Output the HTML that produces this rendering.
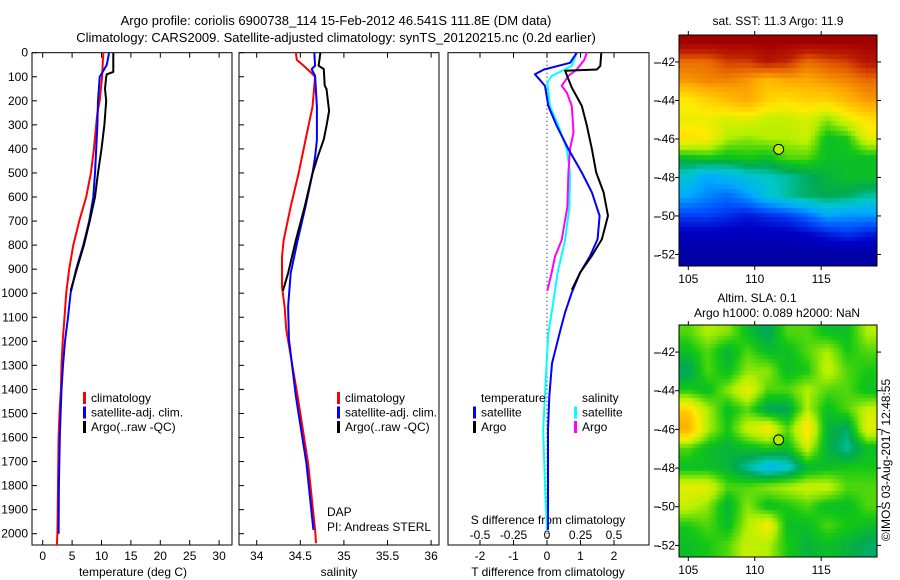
<!DOCTYPE html>
<html><head><meta charset="utf-8">
<style>
html,body{margin:0;padding:0;background:#fff;}
#wrap{position:relative;width:900px;height:580px;overflow:hidden;font-family:"Liberation Sans",sans-serif;}
svg text{font-family:"Liberation Sans",sans-serif;font-size:12px;fill:#000;}
canvas{position:absolute;}
</style></head>
<body>
<div id="wrap">
<canvas id="sstMap" width="198" height="231" style="left:679px;top:35px"></canvas>
<canvas id="slaMap" width="198" height="232" style="left:679px;top:325px"></canvas>
<svg id="fig" width="900" height="580" style="position:absolute;left:0;top:0" xmlns="http://www.w3.org/2000/svg">
<text x="336" y="25" text-anchor="middle" style="font-size:13px">Argo profile: coriolis 6900738_114 15-Feb-2012 46.541S 111.8E (DM data)</text>
<text x="336" y="42" text-anchor="middle" style="font-size:13px">Climatology: CARS2009. Satellite-adjusted climatology: synTS_20120215.nc (0.2d earlier)</text>
<g id="g"></g>
</svg>
</div>
<script>
// ---------- data ----------
const depthTicks=[0,100,200,300,400,500,600,700,800,900,1000,1100,1200,1300,1400,1500,1600,1700,1800,1900,2000];
const tempTicks=[0,5,10,15,20,25,30];
const salTicks=[34,34.5,35,35.5,36];
const salTickLabels=["34","34.5","35","35.5","36"];
const tdiffTicks=[-2,-1,0,1,2];
const sdiffTicks=[-0.5,-0.25,0,0.25,0.5];
const sdiffTickLabels=["-0.5","-0.25","0","0.25","0.5"];

const tClimDepth=[0,100,200,250,300,400,500,600,700,800,900,1000,1100,1200,1300,1400,1500,1600,1800,2000,2050];
const tClimVal=[10.3,10.1,9.7,9.3,9.1,8.7,8.2,7.4,6.2,5.2,4.5,4.0,3.7,3.4,3.2,3.1,2.85,2.7,2.6,2.5,2.4];
const tSatDepth=[0,50,80,100,200,300,400,500,600,700,800,900,1000,1100,1200,1300,1400,1500,1600,1800,2000];
const tSatVal=[11.3,10.9,10.2,9.7,9.4,9.3,9.1,8.9,8.6,7.9,6.9,5.7,4.75,4.3,3.8,3.45,3.2,3.05,2.9,2.75,2.7];
const tArgoDepth=[0,80,90,100,150,200,300,400,500,600,700,800,900,990];
const tArgoVal=[12.0,12.0,10.9,10.8,10.6,10.8,10.5,10.0,9.4,8.9,8.0,7.0,5.8,4.75];

const sClimDepth=[0,30,55,85,100,225,363,502,640,779,848,973,1056,1153,1430,1707,1984,2040];
const sClimVal=[34.45,34.46,34.54,34.63,34.67,34.64,34.56,34.48,34.39,34.31,34.29,34.29,34.32,34.34,34.47,34.59,34.67,34.68];
const sSatDepth=[0,54,68,97,225,363,433,502,640,779,917,1056,1194,1430,1707,1984];
const sSatVal=[34.66,34.67,34.63,34.67,34.69,34.69,34.67,34.64,34.56,34.47,34.39,34.36,34.37,34.45,34.57,34.65];
const sArgoDepth=[0,54,68,137,151,242,304,360,433,502,640,779,917,990];
const sArgoVal=[34.73,34.71,34.77,34.78,34.80,34.83,34.80,34.77,34.70,34.64,34.55,34.45,34.36,34.30];

const dTSatDepth=[0,42,70,90,110,138,221,304,401,498,581,678,775,844,914,997,1080,1153,1292,1430,1569,1984];
const dTSatVal=[0.89,0.69,-0.09,-0.36,-0.23,-0.06,0.04,0.29,0.64,1.04,1.34,1.57,1.51,1.29,0.99,0.74,0.54,0.40,0.15,0.07,0.03,0.03];
const dTArgoDepth=[0,55,70,75,110,145,221,304,401,498,581,678,775,844,914,986];
const dTArgoVal=[1.62,1.59,1.49,0.54,0.64,0.74,1.04,1.19,1.34,1.47,1.69,1.82,1.64,1.34,0.99,0.74];
const dSSatDepth=[0,55,97,124,221,304,401,498,640,779,917,1056,1166,1292,1569,1707,1846,1984];
const dSSatVal=[0.222,0.185,0.035,0.002,0.022,0.085,0.148,0.172,0.168,0.135,0.078,0.042,0.01,-0.003,-0.028,-0.02,-0.012,0.0];
const dSArgoDepth=[0,30,70,97,138,166,221,332,401,498,640,779,848,914,990];
const dSArgoVal=[0.298,0.278,0.222,0.16,0.11,0.148,0.185,0.198,0.172,0.16,0.152,0.11,0.06,0.035,0.002];

const mapLats=[-41,-42,-43,-44,-45,-46,-47,-48,-49,-50,-51,-52];
const mapLons=[105,106.5,108,109.5,111,112.5,114,115.5,117,118.5];
const sstGrid=[
[1.0,1.0,1.0,1.0,1.0,1.0,1.0,1.0,1.0,1.0],
[0.85,0.85,0.9,0.9,0.95,0.92,0.85,0.88,0.9,0.95],
[0.8,0.82,0.82,0.8,0.75,0.78,0.78,0.8,0.82,0.85],
[0.68,0.72,0.75,0.78,0.72,0.7,0.72,0.72,0.76,0.8],
[0.66,0.66,0.64,0.65,0.62,0.62,0.64,0.58,0.65,0.7],
[0.7,0.68,0.6,0.58,0.6,0.6,0.62,0.5,0.52,0.65],
[0.5,0.52,0.5,0.52,0.5,0.55,0.55,0.5,0.5,0.5],
[0.38,0.32,0.35,0.38,0.4,0.42,0.45,0.48,0.5,0.5],
[0.32,0.28,0.25,0.3,0.38,0.42,0.45,0.46,0.45,0.42],
[0.2,0.2,0.18,0.15,0.18,0.2,0.25,0.32,0.3,0.3],
[0.1,0.1,0.1,0.1,0.1,0.1,0.12,0.15,0.18,0.15],
[0.06,0.06,0.06,0.06,0.06,0.06,0.06,0.06,0.06,0.06]];
const slaGrid=[
[0.55,0.6,0.58,0.5,0.45,0.55,0.55,0.5,0.5,0.6],
[0.5,0.55,0.48,0.55,0.5,0.5,0.55,0.6,0.52,0.55],
[0.45,0.55,0.5,0.58,0.58,0.5,0.52,0.62,0.55,0.52],
[0.52,0.5,0.58,0.66,0.55,0.55,0.6,0.55,0.55,0.5],
[0.72,0.6,0.5,0.55,0.45,0.45,0.6,0.5,0.55,0.62],
[0.78,0.6,0.52,0.62,0.68,0.55,0.7,0.48,0.45,0.65],
[0.55,0.5,0.48,0.5,0.52,0.5,0.62,0.48,0.42,0.5],
[0.5,0.5,0.48,0.42,0.35,0.38,0.48,0.5,0.52,0.52],
[0.65,0.65,0.55,0.55,0.58,0.6,0.62,0.62,0.55,0.55],
[0.62,0.58,0.48,0.58,0.5,0.52,0.55,0.5,0.5,0.55],
[0.52,0.55,0.5,0.6,0.68,0.5,0.5,0.55,0.52,0.5],
[0.5,0.52,0.55,0.62,0.6,0.52,0.48,0.5,0.48,0.45]];
const argoLon=111.8, argoLat=-46.541;
const mapLonTicks=[105,110,115];
const mapLatTicks=[-42,-44,-46,-48,-50,-52];

// ---------- helpers ----------
const NS="http://www.w3.org/2000/svg";
const G=document.getElementById('g');
function mk(tag,attrs,parent){const e=document.createElementNS(NS,tag);for(const k in attrs)e.setAttribute(k,attrs[k]);(parent||G).appendChild(e);return e;}
const TOP=52.7, BOT=545;
function yD(d){return TOP+d*0.2405;}
function xT(t){return 42.7+5.88*t;}
function xS(s){return 256.7+87.2*(s-34);}
function xDT(t){return 547+33.5*t;}
function xDS(s){return 547+33.5*4*s;}

const panels=[{x0:32,x1:232,name:'temperature-panel'},{x0:239,x1:439,name:'salinity-panel'},{x0:448,x1:649,name:'difference-panel'}];
panels.forEach((p,i)=>{
  const r=mk('rect',{x:p.x0,y:TOP,width:p.x1-p.x0,height:BOT-TOP,fill:'none',stroke:'#000','stroke-width':1});
  
  
  depthTicks.forEach(d=>{
    if(i<2){
      const t=mk('line',{x1:p.x0,x2:p.x0+5,y1:yD(d),y2:yD(d),stroke:'#000'});
      
      
    }
  });
});
depthTicks.forEach(d=>{
  const t=mk('text',{x:28,y:yD(d)+4,'text-anchor':'end'});t.textContent=d;
  
  
});
[63,101,139,178,217,256,353,391,430,469,507,546].forEach(y=>{
  const t=mk('line',{x1:654,x2:659,y1:y,y2:y,stroke:'#000'});
  
  
});
function xAxis(ticks,labels,fx,ly){
  ticks.forEach((v,i)=>{
    const x=fx(v);
    mk('line',{x1:x,x2:x,y1:BOT,y2:BOT-5,stroke:'#000'});
    const tt=mk('line',{x1:x,x2:x,y1:TOP,y2:TOP+5,stroke:'#000'});
    
    
    const t=mk('text',{x:x,y:ly,'text-anchor':'middle'});t.textContent=labels[i];
    
    
  });
}
xAxis(tempTicks,tempTicks.map(String),xT,560);
xAxis(salTicks,salTickLabels,xS,560);
xAxis(tdiffTicks,tdiffTicks.map(String),xDT,560);
sdiffTicks.forEach((v,i)=>{
  const t=mk('text',{x:xDS(v),y:539,'text-anchor':'middle'});t.textContent=sdiffTickLabels[i];
  
  
});
function label(x,y,txt,name,anchor){const t=mk('text',{x:x,y:y,'text-anchor':anchor||'middle'});t.textContent=txt;
  
  return t;}
label(133,576,'temperature (deg C)','temperature-axis-title');
label(339,576,'salinity','salinity-axis-title');
label(548,576,'T difference from climatology','t-diff-axis-title');
label(548,524,'S difference from climatology','s-diff-axis-title');
label(327,516,'DAP','dap-label','start');
label(327,531,'PI: Andreas STERL','pi-label','start');

const zl=mk('line',{x1:xDT(0),x2:xDT(0),y1:TOP,y2:BOT,stroke:'#000','stroke-dasharray':'1,3'});



function series(depths,vals,fx,color,name){
  const pts=depths.map((d,i)=>fx(vals[i]).toFixed(1)+','+yD(d).toFixed(1)).join(' ');
  const pl=mk('polyline',{points:pts,fill:'none',stroke:color,'stroke-width':2,'stroke-linejoin':'round'});
  
  
}
series(tClimDepth,tClimVal,xT,'#ff0000','temp-climatology-line');
series(tSatDepth,tSatVal,xT,'#0000ff','temp-satellite-line');
series(tArgoDepth,tArgoVal,xT,'#000000','temp-argo-line');
series(sClimDepth,sClimVal,xS,'#ff0000','sal-climatology-line');
series(sSatDepth,sSatVal,xS,'#0000ff','sal-satellite-line');
series(sArgoDepth,sArgoVal,xS,'#000000','sal-argo-line');
series(dSSatDepth,dSSatVal,xDS,'#00ffff','sdiff-satellite-line');
series(dSArgoDepth,dSArgoVal,xDS,'#ff00ff','sdiff-argo-line');
series(dTSatDepth,dTSatVal,xDT,'#0000ff','tdiff-satellite-line');
series(dTArgoDepth,dTArgoVal,xDT,'#000000','tdiff-argo-line');

function legend(x,y,color,txt,name){
  if(color){const b=mk('rect',{x:x,y:y-6,width:3,height:12,fill:color});
    
    }
  label(x+8,y+4,txt,name,'start');
}
[[83,'#ff0000','climatology'],[83,'#0000ff','satellite-adj. clim.'],[83,'#000000','Argo(..raw -QC)']].forEach((e,i)=>{
  legend(e[0],398+i*14.5,e[1],e[2],'temp-legend-entry');
  legend(337,398+i*14.5,e[1],e[2],'sal-legend-entry');
});
legend(473,398,null,'temperature','diff-legend-temperature-header');
legend(473,412.5,'#0000ff','satellite','diff-legend-temp-satellite');
legend(473,427,'#000000','Argo','diff-legend-temp-argo');
legend(574,398,null,'salinity','diff-legend-salinity-header');
legend(574,412.5,'#00ffff','satellite','diff-legend-sal-satellite');
legend(574,427,'#ff00ff','Argo','diff-legend-sal-argo');

// ---------- maps ----------
const cmapStops=[0,0.12,0.22,0.32,0.4,0.46,0.52,0.6,0.68,0.78,0.86,0.93,1.0];
const cmapColors=[[0,0,130],[0,0,200],[0,80,255],[0,170,255],[0,200,200],[0,170,80],[20,200,20],[180,240,0],[255,235,0],[255,170,0],[230,100,0],[190,30,0],[160,0,0]];
function cmap(v){v=Math.max(0,Math.min(1,v));
  let i=0;while(i<cmapStops.length-2&&v>cmapStops[i+1])i++;
  const t=(v-cmapStops[i])/(cmapStops[i+1]-cmapStops[i]);
  const a=cmapColors[i],b=cmapColors[i+1];
  return 'rgb('+a.map((c,k)=>Math.round(c+(b[k]-c)*t)).join(',')+')';}
function interp(grid,lon,lat){
  let fi=(lon-mapLons[0])/1.5, fj=(mapLats[0]-lat)/1;
  fi=Math.max(0,Math.min(mapLons.length-1,fi)); fj=Math.max(0,Math.min(mapLats.length-1,fj));
  const i0=Math.min(mapLons.length-2,Math.floor(fi)),j0=Math.min(mapLats.length-2,Math.floor(fj));
  const a=fi-i0,b=fj-j0;
  return grid[j0][i0]*(1-a)*(1-b)+grid[j0][i0+1]*a*(1-b)+grid[j0+1][i0]*(1-a)*b+grid[j0+1][i0+1]*a*b;
}
const LON0=104.3,LON1=119.2,LAT0=-40.6,LAT1=-52.6;
function drawMap(id,grid,cell){
  const c=document.getElementById(id),ctx=c.getContext('2d');
  const W=c.width,H=c.height;
  const pxLon=W/(LON1-LON0),pxLat=H/(LAT0-LAT1);
  for(let lat=LAT0;lat>LAT1;lat-=cell){
    for(let lon=LON0;lon<LON1;lon+=cell){
      ctx.fillStyle=cmap(interp(grid,lon+cell/2,lat-cell/2));
      ctx.fillRect(Math.floor((lon-LON0)*pxLon),Math.floor((LAT0-lat)*pxLat),Math.ceil(cell*pxLon)+1,Math.ceil(cell*pxLat)+1);
    }
  }
}
drawMap('sstMap',sstGrid,0.25);
drawMap('slaMap',slaGrid,0.2);

function mapAxes(top,h,name,grid){
  const x0=679,w=198;
  const r=mk('rect',{x:x0,y:top,width:w,height:h,fill:'none',stroke:'#000'});
  
  
  const lx=v=>x0+(v-LON0)*w/(LON1-LON0), ly=v=>top+(LAT0-v)*h/(LAT0-LAT1);
  mapLonTicks.forEach(v=>{
    mk('line',{x1:lx(v),x2:lx(v),y1:top,y2:top-4,stroke:'#000'});
    mk('line',{x1:lx(v),x2:lx(v),y1:top+h,y2:top+h+4,stroke:'#000'});
    label(lx(v),top+h+17,String(v),name+'-lon-label');
  });
  mapLatTicks.forEach(v=>{
    mk('line',{x1:x0,x2:x0-4,y1:ly(v),y2:ly(v),stroke:'#000'});
    mk('line',{x1:x0+w,x2:x0+w+4,y1:ly(v),y2:ly(v),stroke:'#000'});
    label(675,ly(v)+4,String(v),name+'-lat-label','end');
  });
  const c=mk('circle',{cx:lx(argoLon),cy:ly(argoLat),r:5,fill:cmap(interp(grid,argoLon,argoLat)+0.04),stroke:'#000','stroke-width':1});
  
  
}
mapAxes(35,231,'sst-map',sstGrid);
mapAxes(325,232,'sla-map',slaGrid);
label(778,25,'sat. SST: 11.3 Argo: 11.9','sst-map-title');
label(757,302,'Altim. SLA: 0.1','sla-map-title');
label(777,317,'Argo h1000: 0.089 h2000: NaN','sla-map-subtitle');
const ts=label(0,0,'©IMOS 03-Aug-2017 12:48:55','timestamp-label');
ts.setAttribute('transform','translate(890,460) rotate(-90)');
</script>
</body></html>
